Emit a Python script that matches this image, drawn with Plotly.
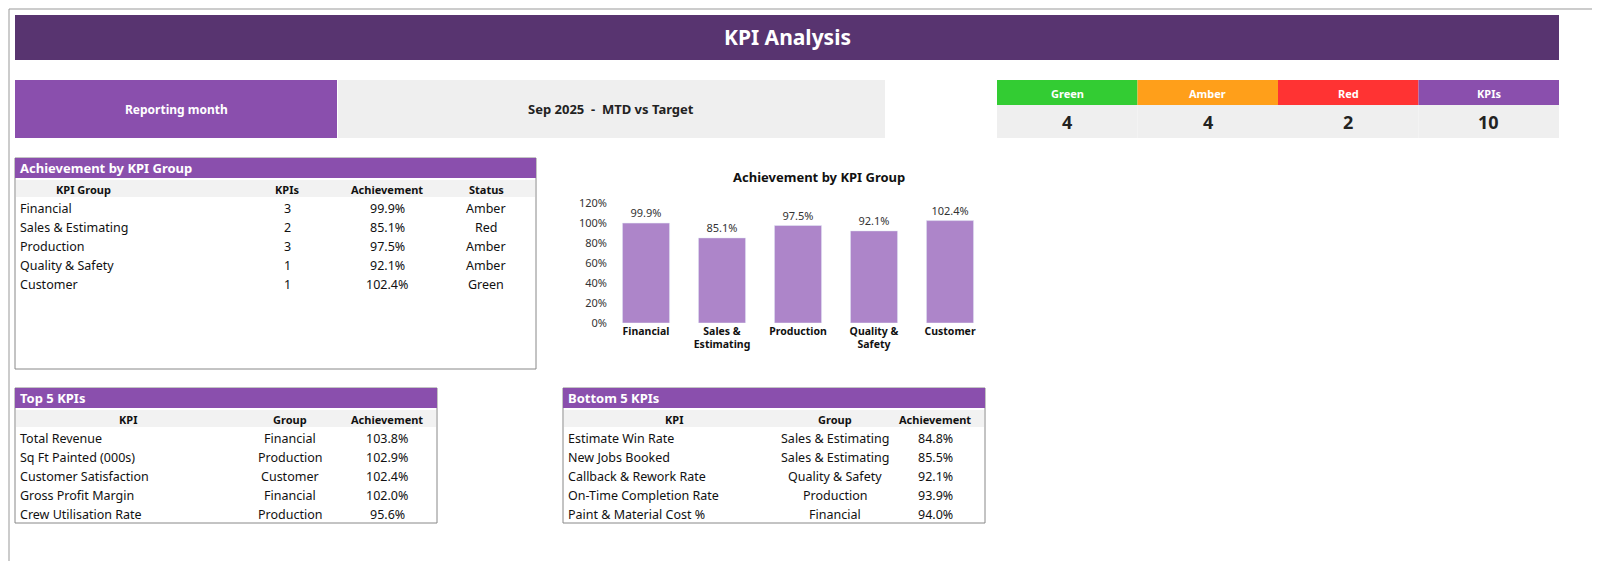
import plotly.graph_objects as go

W, H = 1600, 561
FONT = "Noto Sans"
PURPLE = "#8a4fad"
DARK = "#583470"
GRAY = "#efefef"

status_names = ["Green", "Amber", "Red", "KPIs"]
status_colors = ["#33cc33", "#ff9f1a", "#ff3333", PURPLE]
status_counts = [4, 4, 2, 10]

groups = ["Financial", "Sales & Estimating", "Production", "Quality & Safety", "Customer"]
group_labels = ["Financial", "Sales &<br>Estimating", "Production", "Quality &<br>Safety", "Customer"]
group_kpis = [3, 2, 3, 1, 1]
group_ach = [0.999, 0.851, 0.975, 0.921, 1.024]
group_status = ["Amber", "Red", "Amber", "Amber", "Green"]

top_kpi = ["Total Revenue", "Sq Ft Painted (000s)", "Customer Satisfaction", "Gross Profit Margin", "Crew Utilisation Rate"]
top_group = ["Financial", "Production", "Customer", "Financial", "Production"]
top_ach = [1.038, 1.029, 1.024, 1.020, 0.956]

bot_kpi = ["Estimate Win Rate", "New Jobs Booked", "Callback & Rework Rate", "On-Time Completion Rate", "Paint & Material Cost %"]
bot_group = ["Sales & Estimating", "Sales & Estimating", "Quality & Safety", "Production", "Financial"]
bot_ach = [0.848, 0.855, 0.921, 0.939, 0.940]

fig = go.Figure()
fig.add_trace(go.Bar(
    x=group_labels, y=group_ach, marker_color="#ad85c9", width=0.62,
    text=[f"{v:.1%}" for v in group_ach], textposition="outside",
    textfont=dict(size=11, color="#333"), cliponaxis=False,
    xaxis="x2", yaxis="y2", hoverinfo="skip"))

shapes, ann = [], []

def rect(x0, y0, x1, y1, fill, line=None):
    shapes.append(dict(type="rect", xref="x", yref="y", x0=x0, y0=y0, x1=x1, y1=y1,
                       fillcolor=fill, line=dict(width=1 if line else 0, color=line or fill), layer="below"))

def text(x, y, s, size=12, color="#111", bold=False, anchor="center"):
    ann.append(dict(xref="x", yref="y", x=x, y=y, text=f"<b>{s}</b>" if bold else s, showarrow=False,
                    xanchor=anchor, yanchor="middle", font=dict(size=size, color=color, family=FONT)))

rect(1, 1, 1598, 559, "white", "#999")
rect(7, 7, 1551, 52, DARK)
text(779, 29, "KPI Analysis", 21, "white", True)
rect(7, 72, 329, 130, PURPLE)
text(168, 101, "Reporting month", 12, "white", True)
rect(330, 72, 877, 130, GRAY)
text(603, 101, "Sep 2025 &nbsp;- &nbsp;MTD vs Target", 13, "#222", True)

cw = (1551 - 989) / 4
for i, (n, c, v) in enumerate(zip(status_names, status_colors, status_counts)):
    x0 = 989 + i * cw
    rect(x0, 72, x0 + cw, 97, c)
    text(x0 + cw / 2, 85, n, 11, "white", True)
    rect(x0, 97, x0 + cw, 130, GRAY)
    text(x0 + cw / 2, 114, str(v), 18, "#222", True)

def table(x0, x1, top, ybot, title, cols, colx, rows, aligns):
    rect(x0, top, x1, ybot, "white", "#888")
    rect(x0, top, x1, top + 20, PURPLE)
    text(x0 + 3, top + 10, title, 13, "white", True, "left")
    rect(x0 + 1, top + 22, x1 - 1, top + 39, "#f2f2f2")
    for c, cx in zip(cols, colx):
        text(cx, top + 31, c, 11, "#111", True)
    for r, row in enumerate(rows):
        y = top + 50 + r * 19
        for j, v in enumerate(row):
            if aligns[j] == "left":
                text(x0 + 3, y, v, 12.5, "#111", anchor="left")
            else:
                text(colx[j], y, v, 12.5)

table(7, 528, 150, 361, "Achievement by KPI Group", ["KPI Group", "KPIs", "Achievement", "Status"],
      [75, 279, 379, 478],
      [[g, str(k), f"{a:.1%}", s] for g, k, a, s in zip(groups, group_kpis, group_ach, group_status)],
      ["left", "c", "c", "c"])
table(7, 429, 380, 515, "Top 5 KPIs", ["KPI", "Group", "Achievement"], [120, 282, 379],
      [[k, g, f"{a:.1%}"] for k, g, a in zip(top_kpi, top_group, top_ach)], ["left", "c", "c"])
table(555, 977, 380, 515, "Bottom 5 KPIs", ["KPI", "Group", "Achievement"], [666, 827, 927],
      [[k, g, f"{a:.1%}"] for k, g, a in zip(bot_kpi, bot_group, bot_ach)], ["left", "c", "c"])

text(811, 169, "Achievement by KPI Group", 13, "#111", True)

fig.update_layout(
    width=W, height=H, margin=dict(l=0, r=0, t=0, b=0, autoexpand=False),
    paper_bgcolor="white", plot_bgcolor="rgba(0,0,0,0)", showlegend=False,
    font=dict(family=FONT),
    xaxis=dict(range=[0, W], domain=[0, 1], visible=False, fixedrange=True, automargin=False),
    yaxis=dict(range=[H, 0], domain=[0, 1], visible=False, fixedrange=True, automargin=False),
    xaxis2=dict(domain=[600 / W, 980 / W], anchor="y2", showgrid=False, showline=False, automargin=False,
                tickangle=0, tickprefix="<b>", ticksuffix="</b>",
                tickfont=dict(size=10.5, color="#111", family=FONT), ticks=""),
    yaxis2=dict(domain=[1 - 315 / H, 1 - 195 / H], anchor="x2", range=[0, 1.2], dtick=0.2, automargin=False,
                tickformat=".0%", showgrid=False, zeroline=False, tickfont=dict(size=11, color="#333")),
    shapes=shapes, annotations=ann)

fig.write_html("out.html")
